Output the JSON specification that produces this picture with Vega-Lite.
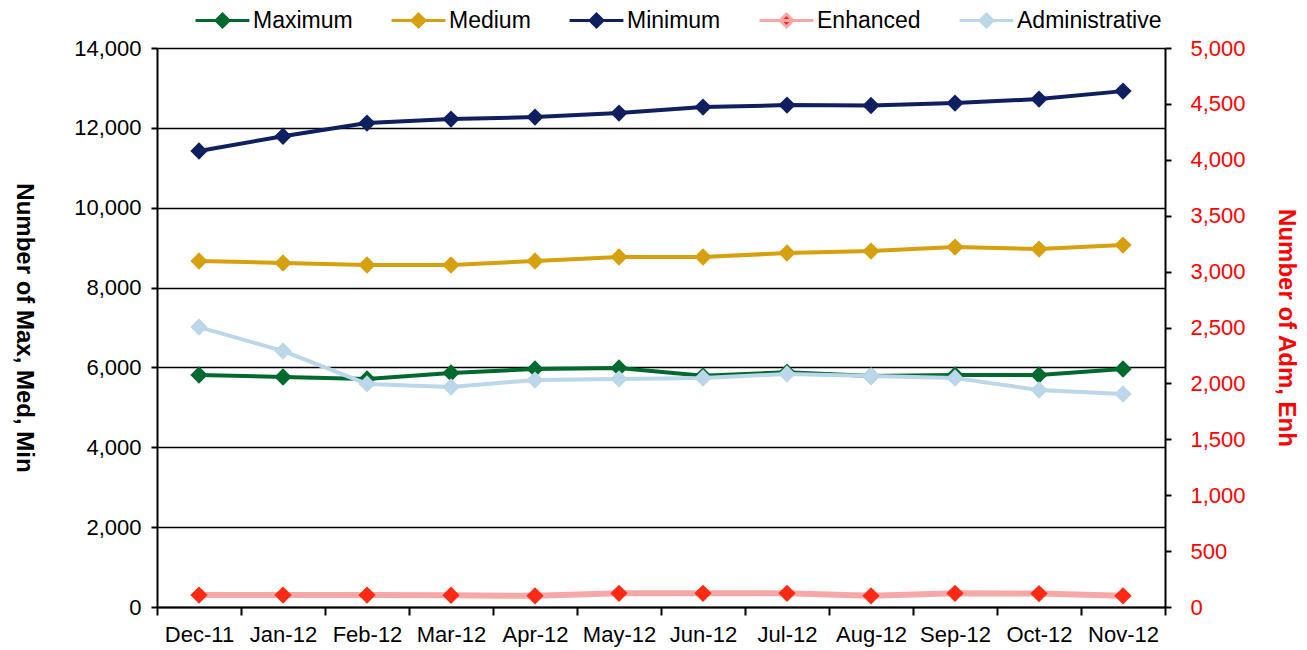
{
  "$schema": "https://vega.github.io/schema/vega-lite/v6.json",
  "autosize": {"type": "none"},
  "width": 1008,
  "height": 559,
  "padding": {"left": 157, "top": 48, "right": 142, "bottom": 43},
  "background": "white",
  "config": {
    "view": {"stroke": null},
    "font": "Liberation Sans",
    "axis": {"labelFont": "Liberation Sans", "titleFont": "Liberation Sans", "labelFontSize": 22, "titleFontSize": 24, "labelColor": "black", "domainColor": "black", "tickColor": "black"}
  },
  "data": {
    "values": [
      {"month": "Dec-11", "series": "Maximum", "value": 5810},
      {"month": "Jan-12", "series": "Maximum", "value": 5760},
      {"month": "Feb-12", "series": "Maximum", "value": 5710},
      {"month": "Mar-12", "series": "Maximum", "value": 5860},
      {"month": "Apr-12", "series": "Maximum", "value": 5960},
      {"month": "May-12", "series": "Maximum", "value": 5985},
      {"month": "Jun-12", "series": "Maximum", "value": 5790},
      {"month": "Jul-12", "series": "Maximum", "value": 5880},
      {"month": "Aug-12", "series": "Maximum", "value": 5785},
      {"month": "Sep-12", "series": "Maximum", "value": 5810},
      {"month": "Oct-12", "series": "Maximum", "value": 5810},
      {"month": "Nov-12", "series": "Maximum", "value": 5960},
      {"month": "Dec-11", "series": "Medium", "value": 8665},
      {"month": "Jan-12", "series": "Medium", "value": 8615},
      {"month": "Feb-12", "series": "Medium", "value": 8565},
      {"month": "Mar-12", "series": "Medium", "value": 8565},
      {"month": "Apr-12", "series": "Medium", "value": 8665},
      {"month": "May-12", "series": "Medium", "value": 8765},
      {"month": "Jun-12", "series": "Medium", "value": 8765},
      {"month": "Jul-12", "series": "Medium", "value": 8865},
      {"month": "Aug-12", "series": "Medium", "value": 8915},
      {"month": "Sep-12", "series": "Medium", "value": 9015},
      {"month": "Oct-12", "series": "Medium", "value": 8965},
      {"month": "Nov-12", "series": "Medium", "value": 9065},
      {"month": "Dec-11", "series": "Minimum", "value": 11420},
      {"month": "Jan-12", "series": "Minimum", "value": 11790},
      {"month": "Feb-12", "series": "Minimum", "value": 12120},
      {"month": "Mar-12", "series": "Minimum", "value": 12220},
      {"month": "Apr-12", "series": "Minimum", "value": 12270},
      {"month": "May-12", "series": "Minimum", "value": 12370},
      {"month": "Jun-12", "series": "Minimum", "value": 12520},
      {"month": "Jul-12", "series": "Minimum", "value": 12570},
      {"month": "Aug-12", "series": "Minimum", "value": 12560},
      {"month": "Sep-12", "series": "Minimum", "value": 12620},
      {"month": "Oct-12", "series": "Minimum", "value": 12720},
      {"month": "Nov-12", "series": "Minimum", "value": 12920},
      {"month": "Dec-11", "series": "Enhanced", "value": 107},
      {"month": "Jan-12", "series": "Enhanced", "value": 107},
      {"month": "Feb-12", "series": "Enhanced", "value": 107},
      {"month": "Mar-12", "series": "Enhanced", "value": 105},
      {"month": "Apr-12", "series": "Enhanced", "value": 100},
      {"month": "May-12", "series": "Enhanced", "value": 122},
      {"month": "Jun-12", "series": "Enhanced", "value": 122},
      {"month": "Jul-12", "series": "Enhanced", "value": 122},
      {"month": "Aug-12", "series": "Enhanced", "value": 100},
      {"month": "Sep-12", "series": "Enhanced", "value": 122},
      {"month": "Oct-12", "series": "Enhanced", "value": 120},
      {"month": "Nov-12", "series": "Enhanced", "value": 100},
      {"month": "Dec-11", "series": "Administrative", "value": 2504},
      {"month": "Jan-12", "series": "Administrative", "value": 2290},
      {"month": "Feb-12", "series": "Administrative", "value": 1995},
      {"month": "Mar-12", "series": "Administrative", "value": 1968},
      {"month": "Apr-12", "series": "Administrative", "value": 2030},
      {"month": "May-12", "series": "Administrative", "value": 2040},
      {"month": "Jun-12", "series": "Administrative", "value": 2048},
      {"month": "Jul-12", "series": "Administrative", "value": 2084},
      {"month": "Aug-12", "series": "Administrative", "value": 2066},
      {"month": "Sep-12", "series": "Administrative", "value": 2048},
      {"month": "Oct-12", "series": "Administrative", "value": 1941},
      {"month": "Nov-12", "series": "Administrative", "value": 1905}
    ]
  },
  "encoding": {
    "x": {
      "field": "month", "type": "ordinal",
      "sort": ["Dec-11","Jan-12","Feb-12","Mar-12","Apr-12","May-12","Jun-12","Jul-12","Aug-12","Sep-12","Oct-12","Nov-12"],
      "scale": {"type": "band", "paddingInner": 0, "paddingOuter": 0},
      "axis": {"title": null, "labelAngle": 0, "tickBand": "extent", "tickSize": 8, "tickWidth": 2, "domainWidth": 2, "labelPadding": 9, "grid": false}
    }
  },
  "layer": [
    {
      "transform": [{"filter": "datum.series === 'Maximum' || datum.series === 'Medium' || datum.series === 'Minimum'"}],
      "encoding": {
        "y": {
          "field": "value", "type": "quantitative",
          "scale": {"domain": [0, 14000], "nice": false},
          "axis": {"orient": "left", "title": "Number of Max, Med, Min", "titleAngle": 90, "titleFontWeight": "bold", "titlePadding": 62, "values": [0,2000,4000,6000,8000,10000,12000,14000], "format": ",d", "tickSize": 6, "tickWidth": 2, "domainWidth": 2, "labelPadding": 10, "grid": true, "gridColor": "black", "gridWidth": 1.5, "gridOpacity": 1}
        }
      },
      "layer": [
        {
          "mark": {"type": "line", "strokeWidth": 4},
          "encoding": {
            "stroke": {
              "field": "series", "type": "nominal",
              "scale": {"domain": ["Maximum","Medium","Minimum","Enhanced","Administrative"], "range": ["#006A2E","#D6A00E","#0F1F5F","#F6A8A8","#BCD6EA"]},
              "legend": {
                "title": null, "orient": "none", "direction": "horizontal", "columns": 5,
                "legendX": 37, "legendY": -56,
                "labelFontSize": 23, "labelFont": "Liberation Sans", "labelColor": "black",
                "symbolType": "M-1,0H1M-0.24,0L0,-0.24L0.24,0L0,0.24Z",
                "symbolSize": 2900, "symbolStrokeWidth": 3, "labelOffset": 2, "columnPadding": 32
              }
            }
          }
        },
        {
          "mark": {"type": "point", "shape": "diamond", "filled": true, "size": 300, "opacity": 1},
          "encoding": {
            "fill": {
              "field": "series", "type": "nominal",
              "scale": {"domain": ["Maximum","Medium","Minimum","Enhanced","Administrative"], "range": ["#006A2E","#D6A00E","#0F1F5F","#FF2A14","#BCD6EA"]},
              "legend": {
                "title": null, "orient": "none", "direction": "horizontal", "columns": 5,
                "legendX": 37, "legendY": -56,
                "labelFontSize": 23, "labelFont": "Liberation Sans", "labelColor": "black",
                "symbolType": "M-1,0H1M-0.24,0L0,-0.24L0.24,0L0,0.24Z",
                "symbolSize": 2900, "symbolStrokeWidth": 3, "labelOffset": 2, "columnPadding": 32
              }
            }
          }
        }
      ]
    },
    {
      "transform": [{"filter": "datum.series === 'Enhanced' || datum.series === 'Administrative'"}],
      "encoding": {
        "y": {
          "field": "value", "type": "quantitative",
          "scale": {"domain": [0, 5000], "nice": false},
          "axis": {"orient": "right", "title": "Number of Adm, Enh", "titleAngle": 90, "titleFontWeight": "bold", "titleColor": "#FF0000", "labelColor": "#FF0000", "titlePadding": 28, "values": [0,500,1000,1500,2000,2500,3000,3500,4000,4500,5000], "format": ",d", "tickSize": 6, "tickWidth": 2, "domainWidth": 2, "labelPadding": 19, "grid": false}
        }
      },
      "layer": [
        {
          "transform": [{"filter": "datum.series === 'Enhanced'"}],
          "mark": {"type": "line", "strokeWidth": 6},
          "encoding": {"stroke": {"field": "series", "type": "nominal"}}
        },
        {
          "transform": [{"filter": "datum.series === 'Administrative'"}],
          "mark": {"type": "line", "strokeWidth": 4},
          "encoding": {"stroke": {"field": "series", "type": "nominal"}}
        },
        {
          "mark": {"type": "point", "shape": "diamond", "filled": true, "size": 300, "opacity": 1},
          "encoding": {"fill": {"field": "series", "type": "nominal"}}
        }
      ]
    }
  ],
  "resolve": {"scale": {"y": "independent"}}
}
